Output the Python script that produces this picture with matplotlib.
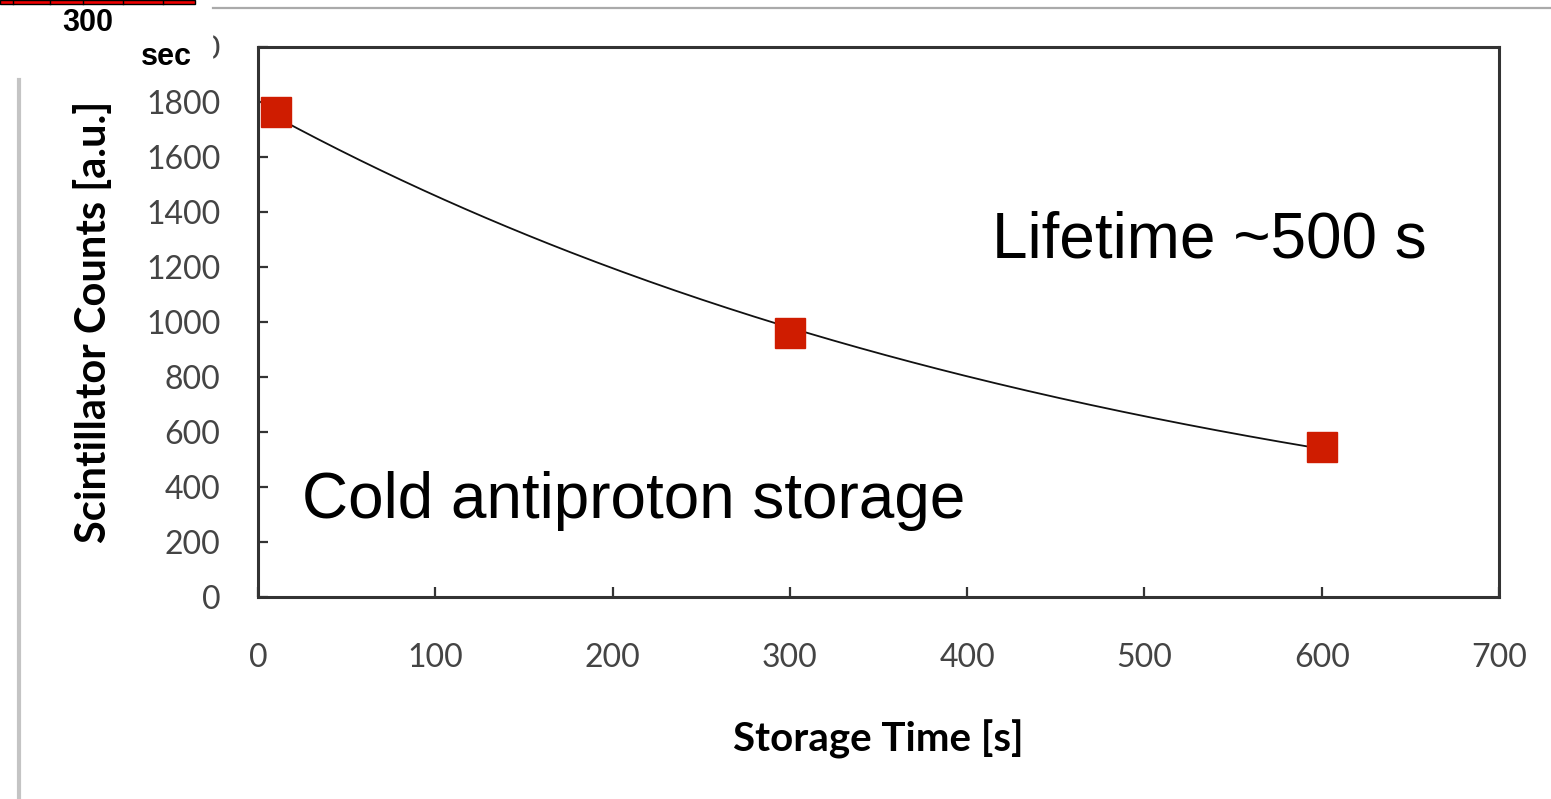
import numpy as np
import matplotlib.pyplot as plt
from matplotlib.patches import Rectangle
from matplotlib.lines import Line2D

# measured points (storage time [s], counts [a.u.])
storage_time = [10, 300, 600]
counts = [1764, 960, 544]

x_ticks = [0, 100, 200, 300, 400, 500, 600, 700]
y_ticks = [0, 200, 400, 600, 800, 1000, 1200, 1400, 1600, 1800, 2000]

W, H = 1551, 799
fig = plt.figure(figsize=(W / 100, H / 100), dpi=100)

ax = fig.add_axes([258 / W, (H - 597) / H, 1241 / W, 550 / H])

# exponential fit (log-linear)
slope, icpt = np.polyfit(storage_time, np.log(counts), 1)
t_fit = np.linspace(storage_time[0], storage_time[-1], 200)
ax.plot(t_fit, np.exp(icpt + slope * t_fit), color="#111111", lw=1.3, zorder=2)

ax.plot(storage_time, counts, ls="none", marker="s", ms=21.5,
        color="#cf1c00", mec="#cf1c00", zorder=3, clip_on=False)

ax.set_xlim(0, 700)
ax.set_ylim(0, 2000)
ax.set_xticks(x_ticks)
ax.set_yticks(y_ticks)
for s in ax.spines.values():
    s.set_linewidth(2.2)
    s.set_color("#333333")
ax.tick_params(direction="in", length=7, width=1.6, color="#333333",
               labelsize=23, labelcolor="#444444")
ax.tick_params(axis="y", pad=27)
ax.tick_params(axis="x", pad=33)
for lab in ax.get_xticklabels() + ax.get_yticklabels():
    lab.set_family("Lato")

ax.set_xlabel("Storage Time [s]", family="Lato", fontsize=29,
              fontweight="bold", labelpad=34)
ax.set_ylabel("Scintillator Counts [a.u.]", family="Lato", fontsize=30,
              fontweight="bold", labelpad=24)

ax.text(414, 1236, "Lifetime ~500 s", family="Liberation Sans", fontsize=46)
ax.text(25, 287, "Cold antiproton storage", family="Liberation Sans", fontsize=46)

# slide leftovers around the chart
px = lambda x: x / W
py = lambda y: 1 - y / H
fig.add_artist(Rectangle((0, py(79)), px(212), py(5) - py(79),
                         transform=fig.transFigure, color="white", zorder=10))
fig.add_artist(Line2D([px(213), 1], [py(8), py(8)], transform=fig.transFigure,
                      color="#aaaaaa", lw=1.6, zorder=10))
fig.add_artist(Line2D([px(19), px(19)], [py(80), 0], transform=fig.transFigure,
                      color="#c4c4c4", lw=3, zorder=10))
fig.add_artist(Rectangle((0, py(4)), px(195), py(0) - py(4),
                         transform=fig.transFigure, facecolor="#ee0000",
                         edgecolor="black", lw=1, zorder=11))
for xd in [13, 50, 83, 123, 163]:
    fig.add_artist(Line2D([px(xd), px(xd)], [py(4), 1], transform=fig.transFigure,
                          color="black", lw=1, zorder=12))
fig.text(px(88), py(23), "300", family="Liberation Sans", fontsize=22,
         fontweight="bold", ha="center", va="center", zorder=12)
fig.text(px(166), py(57), "sec", family="Liberation Sans", fontsize=22,
         fontweight="bold", ha="center", va="center", zorder=12)

fig.savefig("out.png", dpi=100)
